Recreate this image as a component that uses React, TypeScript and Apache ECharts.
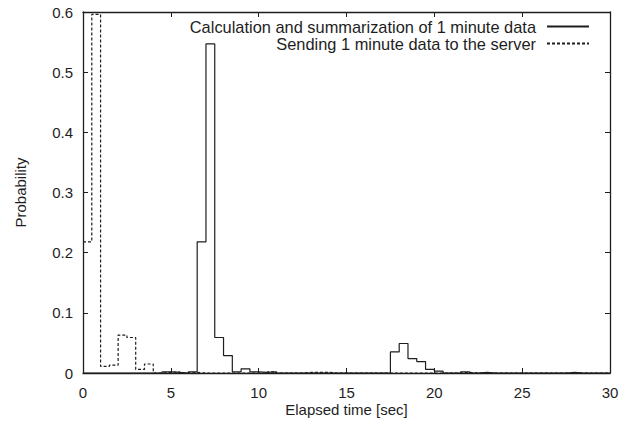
import React, { useEffect, useRef } from "react";
import * as echarts from "echarts";

// Histogram bins of 0.5 s, starting at 0 s
const binWidth = 0.5;
const seriesNames = [
  "Calculation and summarization of 1 minute data",
  "Sending 1 minute data to the server",
];
// Calculation and summarization of 1 minute data (solid)
const calcValues = [
  0, 0, 0, 0, 0, 0, 0, 0, 0, 0.002,
  0.001, 0, 0.002, 0.218, 0.547, 0.059, 0.029, 0.002, 0.007, 0.002,
  0.001, 0.002, 0, 0, 0, 0, 0, 0, 0, 0,
  0, 0, 0, 0, 0, 0.035, 0.049, 0.024, 0.019, 0.006,
  0.003, 0, 0, 0.002, 0, 0.001, 0, 0, 0, 0,
  0, 0, 0, 0, 0, 0.001, 0, 0, 0, 0,
];
// Sending 1 minute data to the server (dashed)
const sendValues = [
  0.218, 0.596, 0.011, 0.013, 0.063, 0.059, 0.006, 0.015, 0, 0.001,
  0.002, 0, 0.001, 0, 0, 0, 0, 0, 0, 0,
  0, 0.002, 0, 0, 0, 0.001, 0.001, 0.001, 0, 0,
  0, 0, 0, 0, 0, 0, 0, 0, 0, 0,
  0, 0, 0, 0.001, 0, 0, 0, 0, 0, 0,
  0, 0, 0, 0, 0, 0, 0, 0, 0, 0,
];
const xMin = 0, xMax = 30, xInterval = 5;
const yMin = 0, yMax = 0.6, yInterval = 0.1;

const toSteps = (vals: number[]) =>
  vals
    .map((v, i) => [i * binWidth, v])
    .concat([[vals.length * binWidth, vals[vals.length - 1]]]);

const INK = "#1e1e1e";
const FONT = "'Liberation Sans', Arial, Helvetica, sans-serif";

export default function App() {
  const ref = useRef<HTMLDivElement>(null);
  useEffect(() => {
    if (!ref.current) return;
    const chart = echarts.init(ref.current, undefined, { renderer: "svg" });
    const axisCommon = {
      axisLine: { show: true, onZero: false, lineStyle: { color: INK, width: 1.3 } },
      axisTick: { show: true, inside: true, length: 5, lineStyle: { color: INK, width: 1 } },
      splitLine: { show: false },
    };
    chart.setOption({
      animation: false,
      backgroundColor: "#ffffff",
      textStyle: { fontFamily: FONT },
      grid: { left: 83, right: 26, top: 12, bottom: 54, containLabel: false },
      legend: {
        orient: "vertical",
        align: "right",
        right: 46,
        top: 18,
        padding: 0,
        itemWidth: 42,
        itemHeight: 12,
        itemGap: 0,
        itemStyle: { opacity: 0 },
        textStyle: {
          fontSize: 16.4,
          lineHeight: 17,
          color: INK,
          fontFamily: FONT,
          padding: [0, 6, 0, 0],
        },
        data: seriesNames,
      },
      xAxis: [
        {
          type: "value",
          min: xMin,
          max: xMax,
          interval: xInterval,
          position: "bottom",
          ...axisCommon,
          axisLabel: { color: INK, fontSize: 15, fontFamily: FONT, margin: 12 },
          name: "Elapsed time [sec]",
          nameLocation: "middle",
          nameGap: 29,
          nameMoveOverlap: false,
          nameTextStyle: { color: INK, fontSize: 15, fontFamily: FONT },
        },
        {
          type: "value",
          min: xMin,
          max: xMax,
          interval: xInterval,
          position: "top",
          ...axisCommon,
          axisLabel: { show: false },
        },
      ],
      yAxis: [
        {
          type: "value",
          min: yMin,
          max: yMax,
          interval: yInterval,
          position: "left",
          ...axisCommon,
          axisLabel: { color: INK, fontSize: 15, fontFamily: FONT, margin: 10 },
          name: "Probability",
          nameLocation: "middle",
          nameGap: 55,
          nameMoveOverlap: false,
          nameTextStyle: { color: INK, fontSize: 15, fontFamily: FONT },
        },
        {
          type: "value",
          min: yMin,
          max: yMax,
          interval: yInterval,
          position: "right",
          ...axisCommon,
          axisLabel: { show: false },
        },
      ],
      series: [
        {
          name: seriesNames[0],
          type: "line",
          step: "end",
          data: toSteps(calcValues),
          showSymbol: false,
          symbol: "none",
          lineStyle: { color: INK, width: 1.2, type: "solid" },
          itemStyle: { color: INK },
          xAxisIndex: 0,
          yAxisIndex: 0,
          z: 3,
        },
        {
          name: seriesNames[1],
          type: "line",
          step: "end",
          data: toSteps(sendValues),
          showSymbol: false,
          symbol: "none",
          lineStyle: { color: INK, width: 1.2, type: [3, 2] },
          itemStyle: { color: INK },
          xAxisIndex: 0,
          yAxisIndex: 0,
          z: 2,
        },
      ],
    });
    return () => chart.dispose();
  }, []);
  return <div ref={ref} style={{ width: 636, height: 427, margin: -8 }} />;
}
